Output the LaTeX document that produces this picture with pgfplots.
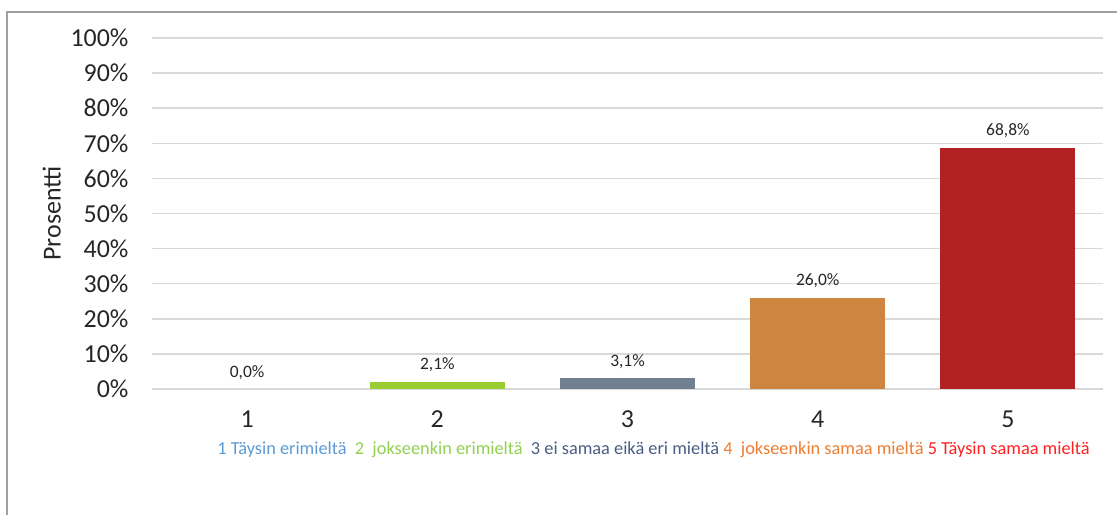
\documentclass[border=0pt]{standalone}
\usepackage{fontspec}
\setmainfont{Carlito}
\usepackage{pgfplots}
\pgfplotsset{compat=1.18}
\definecolor{b2}{HTML}{9ACD32}
\definecolor{b3}{HTML}{708090}
\definecolor{b4}{HTML}{CD853F}
\definecolor{b5}{HTML}{B22222}
\definecolor{l1}{HTML}{5B9BD5}
\definecolor{l2}{HTML}{92D050}
\definecolor{l3}{HTML}{4A5E85}
\definecolor{l4}{HTML}{ED7D31}
\definecolor{l5}{HTML}{FF2020}
\definecolor{gridc}{HTML}{D9D9D9}
\definecolor{framec}{HTML}{A0A0A0}
\begin{document}
\begin{tikzpicture}
\useasboundingbox (0,0) rectangle (1117bp,515bp);
\draw[framec, line width=1.5bp] (7bp,-10bp) -- (7bp,503bp) -- (1130bp,503bp);
\begin{axis}[
  at={(152bp,126bp)}, anchor=south west,
  scale only axis, width=951bp, height=351bp,
  xmin=0.5, xmax=5.5, ymin=0, ymax=100,
  axis line style={draw=none},
  tick style={draw=none},
  ymajorgrids, major grid style={gridc, line width=1.5bp},
  ytick={0,10,...,100},
  yticklabel={\pgfmathprintnumber{\tick}\%},
  xtick={1,2,3,4,5},
  /pgf/number format/assume math mode=true,
  ticklabel style={font=\fontsize{26}{30}\selectfont, text=black!85},
  yticklabel style={xshift=-20bp},
  xticklabel style={yshift=-14bp},
  ylabel={Prosentti},
  ylabel style={font=\fontsize{26}{30}\selectfont, text=black!85, yshift=3bp},
  xlabel={\textcolor{l1}{1 Täysin erimieltä}\ \ \textcolor{l2}{2\ \ jokseenkin erimieltä}\ \ \textcolor{l3}{3 ei samaa eikä eri mieltä}\ \textcolor{l4}{4\ \ jokseenkin samaa mieltä}\ \textcolor{l5}{5 Täysin samaa mieltä}},
  xlabel style={font=\fontsize{18.4}{22}\selectfont, xshift=26bp, yshift=-7bp},
  ybar, bar width=135bp, bar shift=0pt,
  nodes near coords={\pgfmathprintnumber[fixed,fixed zerofill,precision=1,use comma]{\pgfplotspointmeta}\%},
  nodes near coords style={font=\fontsize{17.5}{21}\selectfont, text=black!85, yshift=6bp},
  clip=false,
]
\addplot[draw=none, fill=none] coordinates {(1,0.0)};
\addplot[draw=none, fill=b2] coordinates {(2,2.1)};
\addplot[draw=none, fill=b3] coordinates {(3,3.1)};
\addplot[draw=none, fill=b4] coordinates {(4,26.0)};
\addplot[draw=none, fill=b5] coordinates {(5,68.8)};
\end{axis}
\end{tikzpicture}
\end{document}
